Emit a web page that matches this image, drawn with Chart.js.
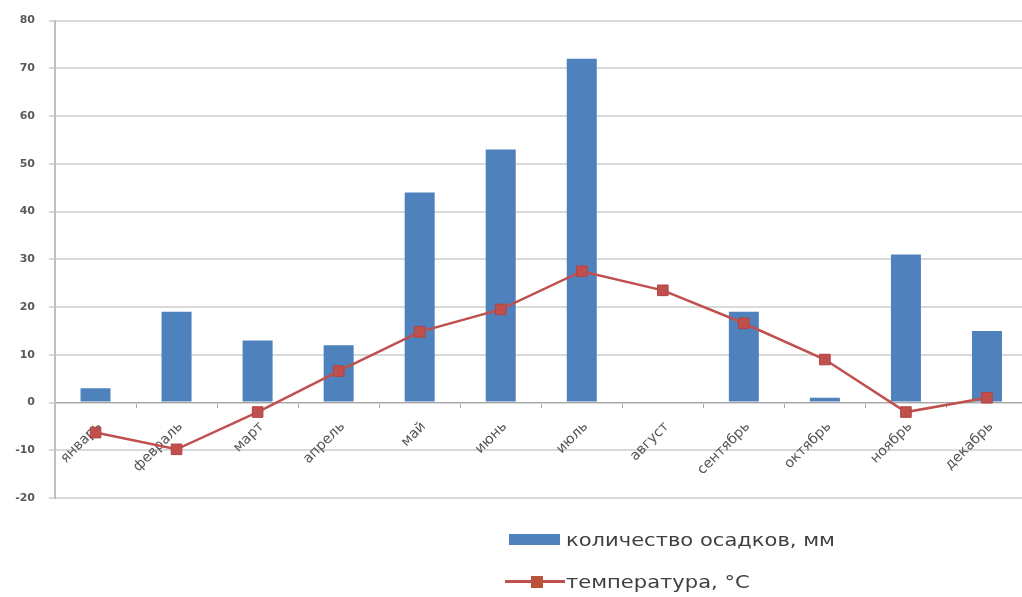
<!DOCTYPE html>
<html>
<head>
<meta charset="utf-8">
<script src="https://cdn.jsdelivr.net/npm/chart.js@4"></script>
<style>
  html, body { margin: 0; padding: 0; background: #fff; overflow: hidden; width: 1022px; height: 597px; }
  #wrap { position: relative; width: 1036px; height: 597px; }
  canvas { position: absolute; left: 0; top: 0; }
  .leg { position: absolute; font-family: "DejaVu Sans", "Liberation Sans", sans-serif; font-size: 17px; color: #3f3f3f; white-space: nowrap; line-height: 20px; transform-origin: 0 50%; }
  .sw { position: absolute; }
</style>
</head>
<body>
<div id="wrap">
  <canvas id="c" width="1036" height="597"></canvas>
  <div class="sw" style="left:509px; top:534px; width:51px; height:11px; background:#4f81bd;"></div>
  <div class="leg" id="l1" style="left:566px; top:530px;"></div>
  <div class="sw" style="left:505px; top:580px; width:60px; height:3px; background:#c0504d;"></div>
  <div class="sw" style="left:531px; top:576px; width:12px; height:12px; background:#b8533a;"></div>
  <div class="leg" id="l2" style="left:566px; top:572px;"></div>
</div>
<script>
const months = ["январь","февраль","март","апрель","май","июнь","июль","август","сентябрь","октябрь","ноябрь","декабрь"];
const precipitation = [3, 19, 13, 12, 44, 53, 72, 0, 19, 1, 31, 15];
const temperature = [-6.3, -9.8, -2, 6.6, 14.8, 19.5, 27.5, 23.5, 16.6, 9, -2, 1];
const seriesNames = ["количество осадков, мм", "температура, °C"];
const yMin = -20, yMax = 80, yStep = 10;

const l1 = document.getElementById('l1');
const l2 = document.getElementById('l2');
l1.textContent = seriesNames[0];
l2.textContent = seriesNames[1];
// legend text in the reference is horizontally stretched; fit first label to its span
const targetW = 269;
const sx = targetW / l1.getBoundingClientRect().width;
l1.style.transform = 'scaleX(' + sx + ')';
l2.style.transform = 'scaleX(' + sx + ')';

new Chart(document.getElementById('c'), {
  type: 'bar',
  data: {
    labels: months,
    datasets: [
      {
        type: 'line',
        label: seriesNames[1],
        data: temperature,
        borderColor: '#c0504d',
        borderWidth: 2.5,
        pointStyle: 'rect',
        pointRadius: 7.5,
        pointBackgroundColor: '#c0504d',
        pointBorderColor: '#b34440',
        pointBorderWidth: 1,
        tension: 0,
        order: 1
      },
      {
        type: 'bar',
        label: seriesNames[0],
        data: precipitation,
        backgroundColor: '#4f81bd',
        categoryPercentage: 1,
        barPercentage: 0.37,
        order: 2
      }
    ]
  },
  options: {
    responsive: false,
    animation: false,
    layout: { padding: { left: 0, top: 20, right: 0, bottom: 99 } },
    plugins: { legend: { display: false }, tooltip: { enabled: false } },
    scales: {
      x: {
        position: { y: 0 },
        grid: { display: true, drawOnChartArea: false, tickLength: 5, color: '#a6a6a6', offset: true },
        border: { display: true, color: '#a6a6a6', width: 1 },
        ticks: {
          minRotation: 45, maxRotation: 45, autoSkip: false,
          color: '#555555', padding: 11, labelOffset: 4,
          font: { family: 'DejaVu Sans', size: 14 }
        }
      },
      y: {
        min: yMin, max: yMax,
        afterFit: (s) => { s.width = 55; },
        grid: { color: '#d9d9d9', lineWidth: 2, tickLength: 6 },
        border: { display: true, color: '#bfbfbf', width: 2 },
        ticks: {
          stepSize: yStep, color: '#595959', padding: 14,
          font: { family: 'DejaVu Sans', size: 11, weight: 'bold' }
        }
      }
    }
  }
});
</script>
</body>
</html>
